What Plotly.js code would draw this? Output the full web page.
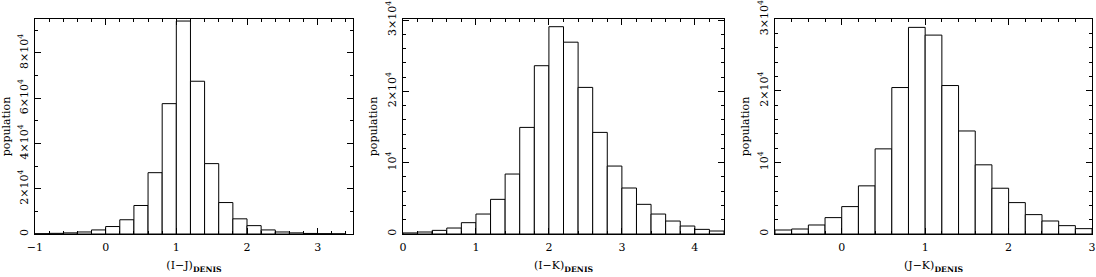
<!DOCTYPE html>
<html>
<head>
<meta charset="utf-8">
<script src="https://cdn.plot.ly/plotly-3.0.1.min.js"></script>
<style>html,body{margin:0;padding:0;background:#fff;}#chart{width:1096px;height:277px;}</style>
</head>
<body>
<div id="chart"></div>
<script>
// Panel 1: (I-J) DENIS
const ijCenters = [-0.9,-0.7,-0.5,-0.3,-0.1,0.1,0.3,0.5,0.7,0.9,1.1,1.3,1.5,1.7,1.9,2.1,2.3,2.5,2.7,2.9,3.1,3.3];
const ijCounts  = [150,300,500,900,1800,3300,6300,12600,27100,57600,94100,67500,31100,13900,6700,3700,1800,900,500,250,150,80];

// Panel 2: (I-K) DENIS
const ikCenters = [0.1,0.3,0.5,0.7,0.9,1.1,1.3,1.5,1.7,1.9,2.1,2.3,2.5,2.7,2.9,3.1,3.3,3.5,3.7,3.9,4.1,4.3];
const ikCounts  = [150,280,510,840,1590,2800,4860,8410,14950,23600,29070,26900,20560,14250,9530,6450,4160,2800,1820,1120,650,420];

// Panel 3: (J-K) DENIS
const jkCenters = [-0.7,-0.5,-0.3,-0.1,0.1,0.3,0.5,0.7,0.9,1.1,1.3,1.5,1.7,1.9,2.1,2.3,2.5,2.7,2.9];
const jkCounts  = [560,700,1260,2290,3830,6730,11900,20470,28880,27800,20750,14400,9670,6400,4390,2710,1820,1170,750];

// Tick labels
const ijXTickVals = [-1,0,1,2,3];
const ijXTickText = ["\u22121","0","1","2","3"];
const ikXTickVals = [0,1,2,3,4];
const ikXTickText = ["0","1","2","3","4"];
const jkXTickVals = [0,1,2,3];
const jkXTickText = ["0","1","2","3"];
const ijYTickVals = [0,20000,40000,60000,80000];
const ijYTickText = ["0","2\u00d710<sup>4</sup>","4\u00d710<sup>4</sup>","6\u00d710<sup>4</sup>","8\u00d710<sup>4</sup>"];
const kYTickVals = [0,10000,20000,30000];
const kYTickText = ["0","10<sup>4</sup>","2\u00d710<sup>4</sup>","3\u00d710<sup>4</sup>"];

const FONT = "DejaVu Serif, Liberation Serif, serif";

function barTrace(x, y, xa, ya) {
  return {
    type: 'bar', x: x, y: y, width: 0.2, xaxis: xa, yaxis: ya,
    marker: {color: '#ffffff', line: {color: '#000000', width: 1}},
    hoverinfo: 'x+y', showlegend: false
  };
}

const data = [
  barTrace(ijCenters, ijCounts, 'x', 'y'),
  barTrace(ikCenters, ikCounts, 'x2', 'y2'),
  barTrace(jkCenters, jkCounts, 'x3', 'y3')
];

function xAxis(domain, range, tv, tt, title, anchor) {
  return {
    domain: domain, range: range, anchor: anchor,
    tickmode: 'array', tickvals: tv, ticktext: tt,
    ticks: 'inside', ticklen: 6, tickwidth: 1, tickcolor: '#000',
    ticklabelstandoff: 3,
    showline: true, linecolor: '#000', linewidth: 1, mirror: 'allticks',
    showgrid: false, zeroline: false,
    minor: {tickmode: 'linear', tick0: 0, dtick: 0.2, ticks: 'inside', ticklen: 3, tickcolor: '#000', showgrid: false},
    tickfont: {family: FONT, size: 11, color: '#000'},
    title: {text: title, font: {family: FONT, size: 11, color: '#000'}, standoff: 8},
    automargin: false, fixedrange: true
  };
}
function yAxis(range, tv, tt, minorStep, anchor) {
  return {
    domain: [0.1552, 0.9314], range: range, anchor: anchor,
    tickmode: 'array', tickvals: tv, ticktext: tt, tickangle: -90,
    ticks: 'inside', ticklen: 6, tickwidth: 1, tickcolor: '#000',
    ticklabelstandoff: 2,
    showline: true, linecolor: '#000', linewidth: 1, mirror: 'allticks',
    showgrid: false, zeroline: false,
    minor: {tickmode: 'linear', tick0: 0, dtick: minorStep, ticks: 'inside', ticklen: 3, tickcolor: '#000', showgrid: false},
    tickfont: {family: FONT, size: 11, color: '#000'},
    title: {text: 'population', font: {family: FONT, size: 11, color: '#000'}, standoff: 4},
    automargin: false, fixedrange: true
  };
}

const layout = {
  width: 1096, height: 277,
  margin: {l: 0, r: 0, t: 0, b: 0},
  paper_bgcolor: '#fff', plot_bgcolor: '#fff',
  bargap: 0, showlegend: false,
  font: {family: FONT, color: '#000'},
  xaxis:  xAxis([0.0319, 0.3221], [-1, 3.5], ijXTickVals, ijXTickText, '(I\u2212J)<sub><b>DENIS</b></sub>', 'y'),
  xaxis2: xAxis([0.3677, 0.6606], [0, 4.4], ikXTickVals, ikXTickText, '(I\u2212K)<sub><b>DENIS</b></sub>', 'y2'),
  xaxis3: xAxis([0.7071, 0.9964], [-0.8, 3.0], jkXTickVals, jkXTickText, '(J\u2212K)<sub><b>DENIS</b></sub>', 'y3'),
  yaxis:  yAxis([0, 95000], ijYTickVals, ijYTickText, 10000, 'x'),
  yaxis2: yAxis([0, 30150], kYTickVals, kYTickText, 2000, 'x2'),
  yaxis3: yAxis([0, 30050], kYTickVals, kYTickText, 2000, 'x3')
};

Plotly.newPlot('chart', data, layout, {staticPlot: true, displayModeBar: false});
</script>
</body>
</html>
